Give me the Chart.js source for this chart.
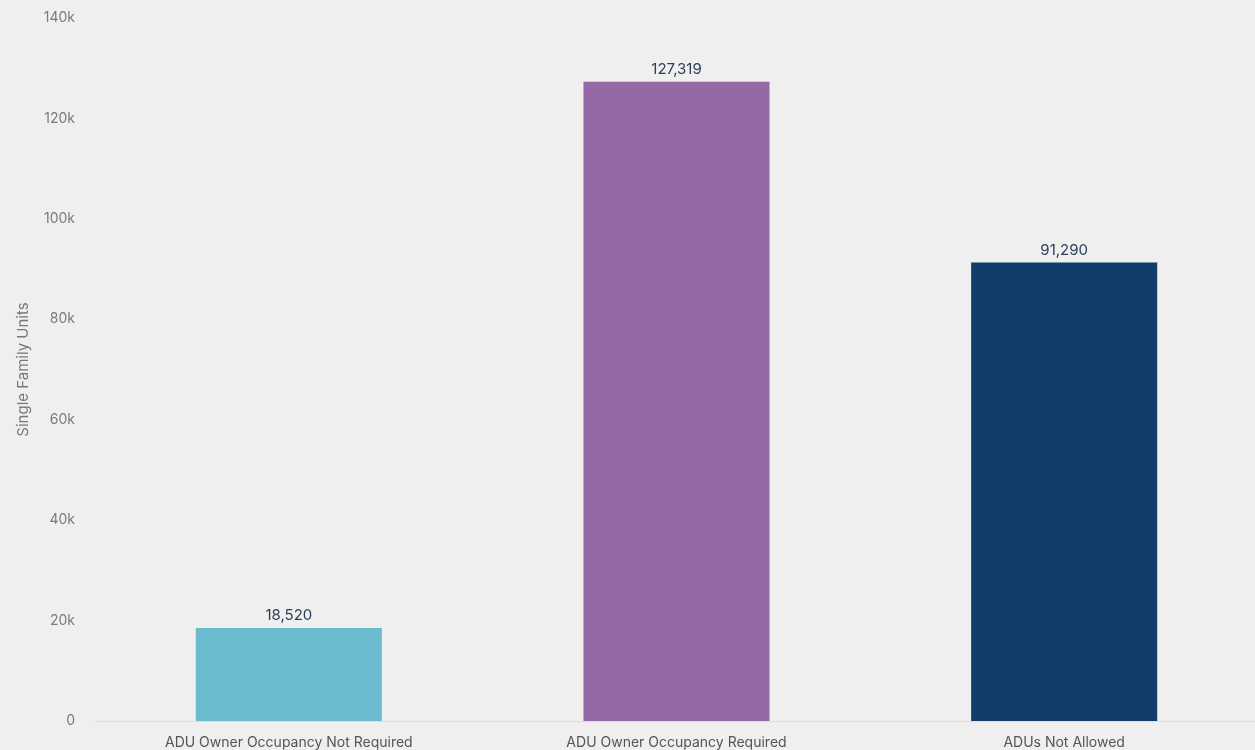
<!DOCTYPE html>
<html>
<head>
<meta charset="utf-8">
<script src="https://cdn.jsdelivr.net/npm/chart.js@4"></script>
<style>
html,body{margin:0;padding:0;background:#efefef;overflow:hidden;width:1255px;height:750px;}
#wrap{position:relative;width:1258px;height:750px;}
</style>
</head>
<body>
<div id="wrap"><canvas id="c"></canvas></div>
<script>
const categories = ["ADU Owner Occupancy Not Required", "ADU Owner Occupancy Required", "ADUs Not Allowed"];
const units = [18520, 127319, 91290];
const barColors = ["#6bbcd0", "#9469a5", "#123d6a"];
const yTickLabels = ["0", "20k", "40k", "60k", "80k", "100k", "120k", "140k"];

const FONT = 'Inter, "Open Sans", sans-serif';

const labelPlugin = {
  id: 'valueLabels',
  afterDatasetsDraw(chart) {
    const ctx = chart.ctx;
    const meta = chart.getDatasetMeta(0);
    ctx.save();
    ctx.font = '15px ' + FONT;
    ctx.fillStyle = '#2b3f5c';
    ctx.textAlign = 'center';
    ctx.textBaseline = 'bottom';
    meta.data.forEach((bar, i) => {
      ctx.fillText(units[i].toLocaleString('en-US'), bar.x, bar.y - 5);
    });
    ctx.restore();
  }
};

new Chart(document.getElementById('c'), {
  type: 'bar',
  data: {
    labels: categories,
    datasets: [{
      data: units,
      backgroundColor: barColors,
      borderWidth: 0,
      categoryPercentage: 1,
      barPercentage: 0.48
    }]
  },
  options: {
    responsive: true,
    maintainAspectRatio: false,
    animation: false,
    layout: { padding: { top: 18, right: 0, bottom: 0, left: 0 } },
    plugins: { legend: { display: false }, tooltip: { enabled: false } },
    scales: {
      x: {
        grid: { display: false, drawTicks: false },
        border: { display: true, color: '#dcdcdc', width: 1 },
        ticks: { color: '#555', font: { family: FONT, size: 14 }, padding: 13, maxRotation: 0 },
        afterFit: (s) => { s.height = 29; s.paddingLeft = 0; s.paddingRight = 0; }
      },
      y: {
        min: 0, max: 140000,
        grid: { display: false, drawTicks: false },
        border: { display: false },
        ticks: {
          stepSize: 20000,
          color: '#7a7a7a',
          padding: 20,
          font: { family: FONT, size: 14 },
          callback: (v) => yTickLabels[Math.round(v / 20000)]
        },
        title: { display: true, text: 'Single Family Units', color: '#777', font: { family: FONT, size: 15 }, padding: { top: 14, bottom: 0 } },
        afterFit: (s) => { s.width = 95; s.paddingTop = 0; s.paddingBottom = 0; }
      }
    }
  },
  plugins: [labelPlugin]
});
</script>
</body>
</html>
